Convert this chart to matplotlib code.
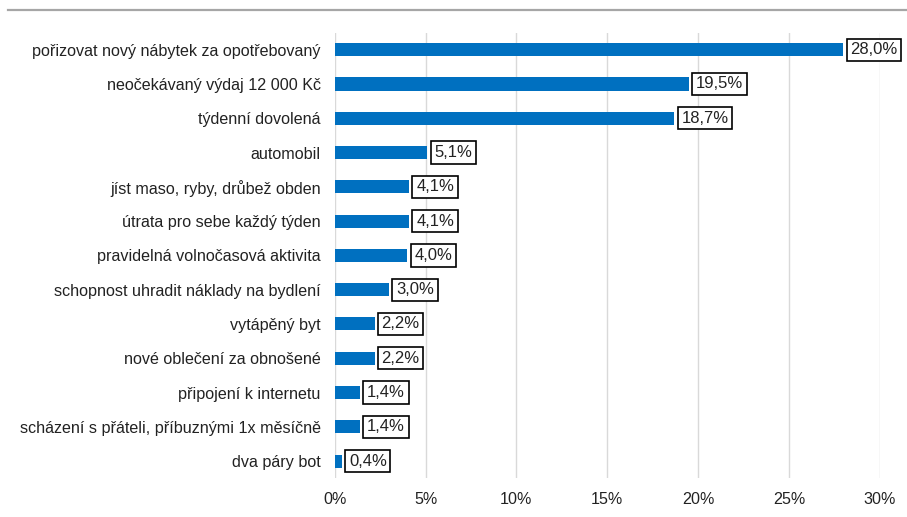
import matplotlib.pyplot as plt
from matplotlib.ticker import FuncFormatter, MultipleLocator

categories = [
    "pořizovat nový nábytek za opotřebovaný",
    "neočekávaný výdaj 12 000 Kč",
    "týdenní dovolená",
    "automobil",
    "jíst maso, ryby, drůbež obden",
    "útrata pro sebe každý týden",
    "pravidelná volnočasová aktivita",
    "schopnost uhradit náklady na bydlení",
    "vytápěný byt",
    "nové oblečení za obnošené",
    "připojení k internetu",
    "scházení s přáteli, příbuznými 1x měsíčně",
    "dva páry bot",
]
values = [28.0, 19.5, 18.7, 5.1, 4.1, 4.1, 4.0, 3.0, 2.2, 2.2, 1.4, 1.4, 0.4]

plt.rcParams['font.family'] = ['Liberation Sans', 'DejaVu Sans']

fig = plt.figure(figsize=(9.07, 5.17), dpi=100)
ax = fig.add_axes([0.369, 0.075, 0.601, 0.862])

ypos = list(range(len(categories)))
ax.barh(ypos, values, height=0.38, color='#0070C0', zorder=3)

for y, v in zip(ypos, values):
    ax.annotate(f"{v:.1f}%".replace('.', ','), xy=(v, y), xytext=(5, 0),
                textcoords='offset points', va='center', ha='left',
                fontsize=12, color='#222222', zorder=4,
                bbox=dict(boxstyle='square,pad=0.22', fc='white', ec='black', lw=1.2))

ax.set_yticks(ypos)
ax.set_yticklabels(categories, fontsize=11.6, color='#222222')
ax.set_ylim(len(categories) - 0.5, -0.5)
ax.set_xlim(0, 30)
ax.xaxis.set_major_locator(MultipleLocator(5))
ax.xaxis.set_major_formatter(FuncFormatter(lambda x, p: f"{int(x)}%"))
ax.tick_params(axis='x', labelsize=11.6, colors='#222222', length=0, pad=10)
ax.tick_params(axis='y', length=0, pad=10)
ax.grid(axis='x', color='#d9d9d9', lw=1, zorder=0)
for s in ax.spines.values():
    s.set_visible(False)

# grey rule along the top of the figure
fig.add_artist(plt.Line2D([0.009, 1.0], [0.981, 0.981], color='#a6a6a6', lw=1.6))

fig.savefig('out.png', dpi=100)
